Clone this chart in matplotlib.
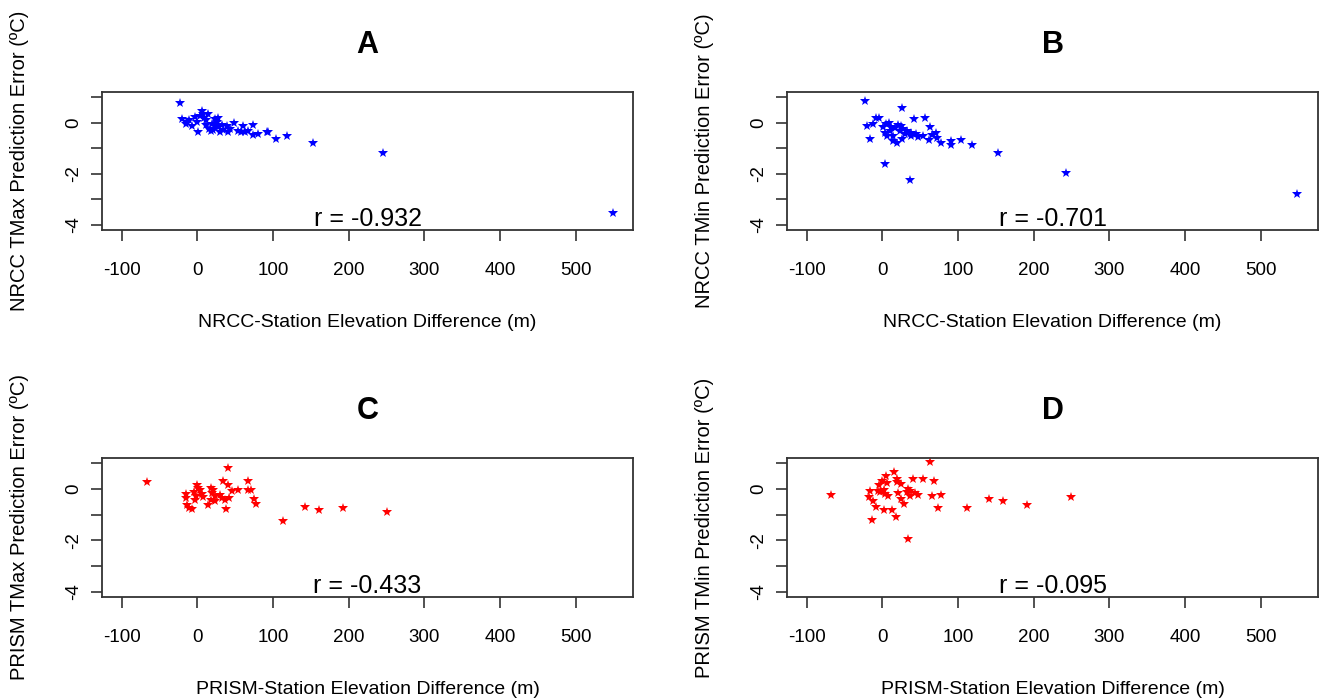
import numpy as np
import matplotlib
matplotlib.use("Agg")
import matplotlib.pyplot as plt

plt.rcParams['font.family'] = ['Liberation Sans', 'DejaVu Sans']

# Panel A - NRCC TMax error vs NRCC-station elevation difference
a_x = [-23, -20, -14, -11, -15, -7, -3, 1, 6, 7, 4, 9, 14, 11, 16, 19, 24, 28, 26, 23,
       28, 21, 30, 34, 39, 40, 43, 48, 54, 61, 63, 67, 73, 73, 80, 92, 93, 104, 119, 153,
       245, 549, 0, 12, 18, 33, 58]
a_y = [0.77, 0.16, 0.05, 0.13, -0.04, -0.14, 0.22, -0.34, 0.48, 0.35, 0.26, 0.18, 0.35, -0.08, -0.24,
       -0.04, 0.16, 0.18, 0.02, -0.13, -0.17, -0.27, -0.34, -0.27, -0.13, -0.34, -0.24, -0.01, -0.30, -0.13,
       -0.34, -0.30, -0.10, -0.47, -0.43, -0.37, -0.34, -0.63, -0.52, -0.80, -1.17, -3.53, 0.05, 0.10, -0.30,
       -0.10, -0.35]

# Panel B - NRCC TMin
b_x = [-23, 26, -20, -12, -8, -5, -17, 42, 56, 1, 5, 9, 3, 6, 12, 14, 14, 19, 21, 25,
       27, 23, 26, 32, 38, 38, 47, 54, 63, 62, 65, 71, 72, 78, 91, 91, 104, 118, 3, 37,
       153, 243, 548, 10, 17, 30, 45]
b_y = [0.86, 0.60, -0.12, -0.03, 0.21, 0.21, -0.64, 0.14, 0.18, -0.18, -0.05, -0.02, -0.38, -0.51, -0.18,
       -0.51, -0.70, -0.77, -0.09, -0.12, -0.25, -0.31, -0.64, -0.31, -0.38, -0.51, -0.54, -0.51, -0.18, -0.66,
       -0.48, -0.38, -0.61, -0.80, -0.70, -0.86, -0.66, -0.87, -1.62, -2.24, -1.19, -1.97, -2.77, -0.30, -0.20,
       -0.45, -0.45]

# Panel C - PRISM TMax
c_x = [-66, 40, -15, -15, -13, -11, -7, -3, -5, -1, 1, 4, 6, 8, -2, 14, 18, 21, 20, 23,
       18, 23, 30, 33, 34, 37, 38, 42, 41, 46, 54, 67, 67, 71, 75, 77, 113, 142, 161, 193, 251]
c_y = [0.27, 0.83, -0.18, -0.35, -0.61, -0.74, -0.79, -0.44, -0.12, 0.14, 0.04, -0.05, -0.18, -0.31, -0.27,
       -0.61, 0.04, -0.02, -0.14, -0.27, -0.44, -0.48, -0.22, -0.35, 0.30, -0.44, -0.77, -0.35, 0.14, -0.07,
       -0.05, 0.30, -0.02, -0.02, -0.38, -0.57, -1.26, -0.69, -0.82, -0.74, -0.91]

# Panel D - PRISM TMin
d_x = [-68, 63, -17, -18, -13, -8, -14, -6, -4, -1, -3, 2, 3, 5, 6, 7, 2, 13, 18, 16,
       19, 19, 24, 21, 24, 29, 34, 33, 37, 40, 37, 43, 47, 54, 68, 65, 77, 74, 112, 141,
       34, 160, 191, 250]
d_y = [-0.23, 1.06, -0.07, -0.30, -0.46, -0.72, -1.19, -0.07, 0.16, 0.32, -0.13, -0.04, -0.20, 0.52, 0.23,
       -0.29, -0.81, -0.81, -1.08, 0.67, 0.41, 0.26, 0.19, -0.16, -0.39, -0.58, 0.02, -0.13, -0.07, 0.41,
       -0.26, -0.16, -0.23, 0.39, 0.32, -0.29, -0.23, -0.74, -0.74, -0.39, -1.95, -0.46, -0.62, -0.33]

titles = ["A", "B", "C", "D"]
r_values = ["r = -0.932", "r = -0.701", "r = -0.433", "r = -0.095"]
ylabels = ["NRCC TMax Prediction Error (\u00baC)", "NRCC TMin Prediction Error (\u00baC)",
           "PRISM TMax Prediction Error (\u00baC)", "PRISM TMin Prediction Error (\u00baC)"]
xlabels = ["NRCC-Station Elevation Difference (m)", "NRCC-Station Elevation Difference (m)",
           "PRISM-Station Elevation Difference (m)", "PRISM-Station Elevation Difference (m)"]
colors = ["blue", "blue", "red", "red"]
xticks = [-100, 0, 100, 200, 300, 400, 500]
yticks = [-4, -3, -2, -1, 0, 1]
ytick_labels = ["-4", "", "-2", "", "0", ""]

xs = [a_x, b_x, c_x, d_x]
ys = [a_y, b_y, c_y, d_y]

fig = plt.figure(figsize=(13.21, 6.99), dpi=100)
positions = [[0.0772, 0.671, 0.402, 0.197], [0.5958, 0.671, 0.402, 0.197],
             [0.0772, 0.1464, 0.402, 0.198], [0.5958, 0.1464, 0.402, 0.198]]

for i in range(4):
    ax = fig.add_axes(positions[i])
    ax.plot(xs[i], ys[i], linestyle='none', marker='*', color=colors[i],
            markersize=7.5, markeredgewidth=0)
    ax.set_xlim(-126, 576)
    ax.set_ylim(-4.2, 1.2)
    ax.set_xticks(xticks)
    ax.set_xticklabels([str(v) for v in xticks])
    ax.set_yticks(yticks)
    ax.set_yticklabels(ytick_labels, rotation=90, va='center')
    ax.tick_params(axis='both', direction='out', length=8, width=1.2, labelsize=13.5, color='#333333')
    ax.tick_params(axis='x', pad=15)
    ax.tick_params(axis='y', pad=6)
    for s in ax.spines.values():
        s.set_linewidth(1.3)
        s.set_color('#333333')
    ax.set_title(titles[i], fontsize=22, fontweight='bold', pad=28)
    ax.set_xlabel(xlabels[i], fontsize=14)
    ax.xaxis.set_label_coords(0.5, -0.61)
    ax.set_ylabel(ylabels[i], fontsize=14.5)
    ax.yaxis.set_label_coords(-0.138, 0.5)
    ax.text(225, -3.78, r_values[i], fontsize=18, ha='center', va='center')

fig.savefig("out.png", dpi=100)
